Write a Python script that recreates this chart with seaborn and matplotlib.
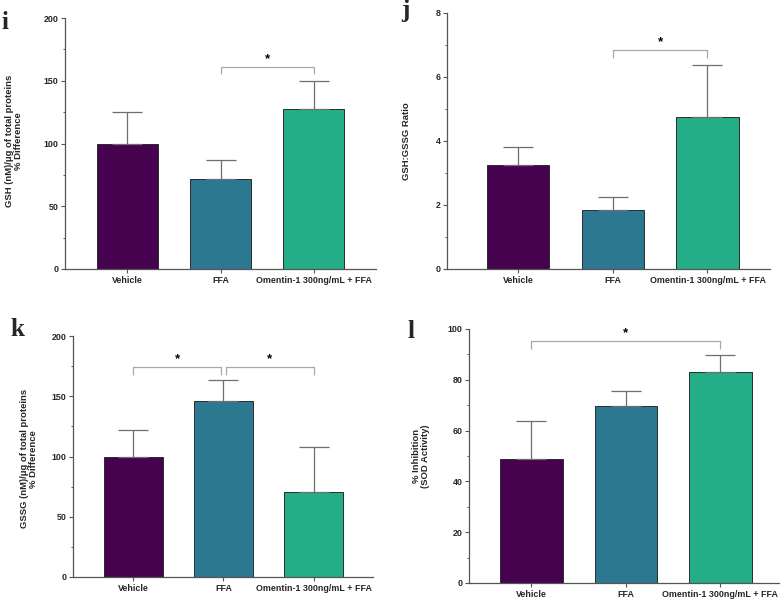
"""
Four-panel bar chart: glutathione / SOD readouts (panels i-l)
"""

import matplotlib
matplotlib.use('Agg')
import matplotlib.pyplot as plt
from matplotlib.ticker import MultipleLocator

import seaborn as sns
import numpy as np


# Data
groups = ['Vehicle', 'FFA', 'Omentin-1 300ng/mL + FFA']
bar_colors = ['#46024e', '#2d7891', '#23ae88']

gsh_mean = [100.0, 71.5, 127.7]
gsh_err = [25.3, 15.7, 22.0]

ratio_mean = [3.24, 1.84, 4.76]
ratio_err = [0.58, 0.42, 1.60]

gssg_mean = [99.9, 146.0, 70.5]
gssg_err = [22.1, 17.2, 37.1]

sod_mean = [48.9, 69.7, 83.2]
sod_err = [14.7, 5.9, 6.4]

# significance brackets: (from, to, height, drop)
gsh_sig = [(1, 2, 161, 5.5)]
ratio_sig = [(1, 2, 6.83, 0.24)]
gssg_sig = [(0, 0.97, 174.5, 6.5), (1.03, 2, 174.5, 6.5)]
sod_sig = [(0, 2, 95.3, 3.0)]

sns.set_style('ticks')
plt.rcParams['font.family'] = ['Liberation Sans', 'DejaVu Sans']
plt.rcParams['font.weight'] = 'bold'

SPINE = '#555555'
W, H = 784, 602


def px_axes(fig, left, right, top, bottom):
    return fig.add_axes([left / W, (H - bottom) / H, (right - left) / W, (bottom - top) / H])


def draw_panel(ax, mean, err, sig, ymax, major, minor, ylabel, xlim, label_xy):
    sns.barplot(x=groups, y=mean, hue=groups, palette=bar_colors, order=groups,
                width=0.66, edgecolor='#2b2b2b', linewidth=0.7, saturation=1,
                legend=False, ax=ax)
    x = np.arange(len(groups))
    ax.errorbar(x, mean, yerr=[np.zeros(len(err)), err], fmt='none',
                ecolor='#6e6e6e', elinewidth=0.9, capsize=11, capthick=0.9, zorder=1)

    for a, b, h, d in sig:
        ax.plot([a, a, b, b], [h - d, h, h, h - d], color='#a8a8a8', lw=0.9,
                solid_capstyle='butt', clip_on=False)
        ax.text((a + b) / 2, h + d * 0.25, '*', ha='center', va='bottom',
                fontsize=9.5, fontweight='bold', color='black')

    ax.set_ylim(0, ymax)
    ax.set_xlim(*xlim)
    ax.yaxis.set_major_locator(MultipleLocator(major))
    ax.yaxis.set_minor_locator(MultipleLocator(minor))
    ax.tick_params(axis='both', which='major', labelsize=6.4, length=3.2,
                   width=0.8, color=SPINE, pad=1.5)
    ax.tick_params(axis='y', which='minor', length=1.8, width=0.7, color=SPINE)
    for lbl in ax.get_xticklabels() + ax.get_yticklabels():
        lbl.set_fontweight('bold')

    for side in ['top', 'right']:
        ax.spines[side].set_visible(False)
    for side in ['left', 'bottom']:
        ax.spines[side].set_color(SPINE)
        ax.spines[side].set_linewidth(0.9)

    ax.set_xlabel('')
    ax.set_ylabel(ylabel, fontsize=6.8, fontweight='bold', linespacing=1.05)
    ax.yaxis.set_label_coords(*label_xy)


fig = plt.figure(figsize=(7.84, 6.02), dpi=100)

ax_i = px_axes(fig, 65, 376, 18, 269)
draw_panel(ax_i, gsh_mean, gsh_err, gsh_sig, 200, 50, 25,
           'GSH (nM)/\u03bcg of total proteins\n% Difference',
           (-0.67, 2.67), (-0.135, 0.51))

ax_j = px_axes(fig, 447, 770, 13, 269)
draw_panel(ax_j, ratio_mean, ratio_err, ratio_sig, 8, 2, 1,
           'GSH:GSSG Ratio', (-0.75, 2.66), (-0.11, 0.5))

ax_k = px_axes(fig, 73, 373, 336, 577)
draw_panel(ax_k, gssg_mean, gssg_err, gssg_sig, 200, 50, 25,
           'GSSG (nM)/\u03bcg of total proteins\n% Difference',
           (-0.67, 2.66), (-0.117, 0.49))

ax_l = px_axes(fig, 469, 779, 329, 583)
draw_panel(ax_l, sod_mean, sod_err, sod_sig, 100, 20, 10,
           '% Inhibition\n(SOD Activity)', (-0.66, 2.62), (-0.126, 0.5))

# panel letters
letter_font = dict(fontsize=18, fontweight='bold', family=['Liberation Serif', 'DejaVu Serif'],
                   va='baseline', ha='left')
fig.text(2 / W, 1 - 29 / H, 'i', **letter_font)
fig.text(401 / W, 1 - 17 / H, 'j', **letter_font)
fig.text(10 / W, 1 - 336 / H, 'k', **letter_font)
fig.text(407 / W, 1 - 338 / H, 'l', **letter_font)

fig.savefig('out.png', dpi=100)
plt.close(fig)
